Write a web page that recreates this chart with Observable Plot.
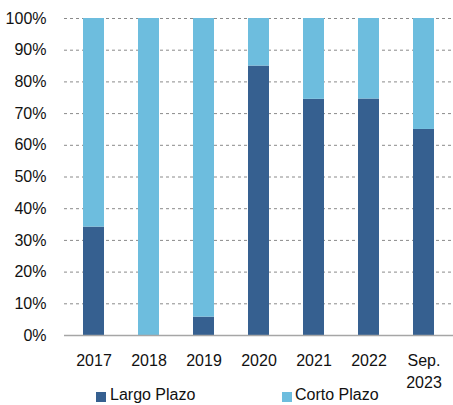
<!DOCTYPE html>
<html>
<head>
<meta charset="utf-8">
<script src="https://cdn.jsdelivr.net/npm/d3@7"></script>
<script src="https://cdn.jsdelivr.net/npm/@observablehq/plot@0.6"></script>
<style>
  html, body { margin: 0; padding: 0; background: #fff; }
  #wrap { position: relative; width: 453px; height: 405px; overflow: hidden; font-family: "Liberation Sans", Arial, sans-serif; color: #111; }
  #chart svg { overflow: visible; }
  #legend { position: absolute; left: 0; top: 0; width: 453px; height: 405px; font-size: 16px; pointer-events: none; }
  .sw { position: absolute; width: 10px; height: 10px; top: 392px; }
  .lt { position: absolute; top: 386px; line-height: 18px; }
</style>
</head>
<body>
<div id="wrap">
  <div id="chart"></div>
  <div id="legend"></div>
</div>
<script>
const periods = ["2017", "2018", "2019", "2020", "2021", "2022", "Sep.\n2023"];
const largoPlazo = [34.2, 0, 5.8, 85, 74.5, 74.6, 65];
const cortoPlazo = [65.8, 100, 94.2, 15, 25.5, 25.4, 35];
const seriesNames = ["Largo Plazo", "Corto Plazo"];
const seriesColors = ["#366090", "#6DBDDE"];
const yTicks = [0, 10, 20, 30, 40, 50, 60, 70, 80, 90, 100];

const data = [];
periods.forEach((p, i) => {
  data.push({period: p, series: seriesNames[0], value: largoPlazo[i]});
  data.push({period: p, series: seriesNames[1], value: cortoPlazo[i]});
});

const chart = Plot.plot({
  width: 453,
  height: 390,
  marginLeft: 64,
  marginRight: 0,
  marginTop: 18,
  marginBottom: 55,
  style: {fontFamily: "'Liberation Sans', Arial, sans-serif", fontSize: "16px", color: "#111", background: "#fff", overflow: "visible"},
  x: {domain: periods, paddingInner: 0.61, paddingOuter: 0.305, label: null},
  y: {domain: [0, 100], label: null},
  color: {domain: seriesNames, range: seriesColors},
  marks: [
    Plot.gridY(yTicks.slice(1), {stroke: "#8a8a8a", strokeOpacity: 1, strokeDasharray: "3,3", strokeWidth: 1}),
    Plot.barY(data, Plot.stackY({order: seriesNames}, {x: "period", y: "value", fill: "series"})),
    Plot.ruleY([0], {stroke: "#a6a6a6", strokeWidth: 1.5}),
    Plot.axisY(yTicks, {tickSize: 0, tickPadding: 18, tickFormat: d => d + "%", fontSize: 16}),
    Plot.axisX({tickSize: 0, tickPadding: 15, fontSize: 16, lineHeight: 1.38})
  ]
});
document.getElementById("chart").appendChild(chart);

const legend = document.getElementById("legend");
const legendPos = [[96, 110], [282, 295]];
seriesNames.forEach((name, i) => {
  const sw = document.createElement("div");
  sw.className = "sw";
  sw.style.left = legendPos[i][0] + "px";
  sw.style.background = seriesColors[i];
  legend.appendChild(sw);
  const t = document.createElement("div");
  t.className = "lt";
  t.style.left = legendPos[i][1] + "px";
  t.textContent = name;
  legend.appendChild(t);
});
</script>
</body>
</html>
